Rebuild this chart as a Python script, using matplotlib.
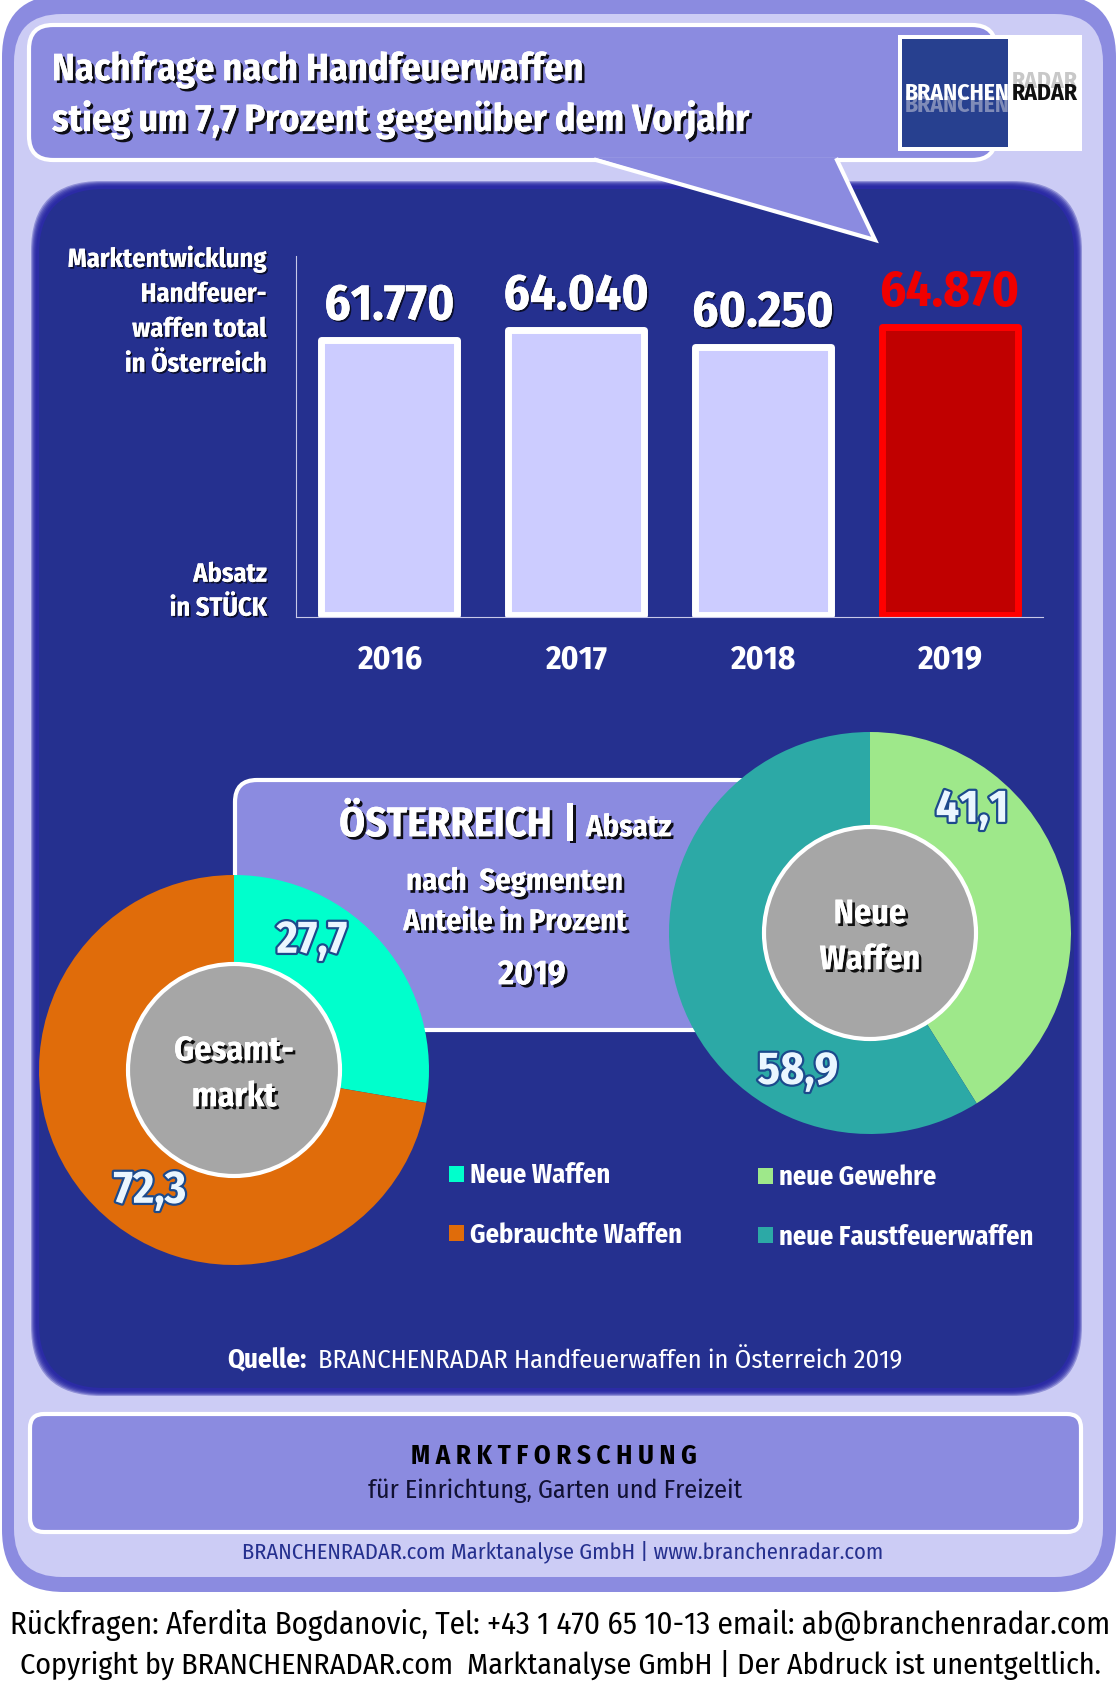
import matplotlib
matplotlib.use("Agg")
import matplotlib.pyplot as plt
import matplotlib.patheffects as pe
from matplotlib.patches import FancyBboxPatch, Polygon, Rectangle, Circle

W, H = 1117, 1687
plt.rcParams['font.family'] = ['Fira Sans Condensed', 'Carlito', 'Lato', 'DejaVu Sans']

years = ['2016', '2017', '2018', '2019']
stueck = [61770, 64040, 60250, 64870]
stueck_labels = ['61.770', '64.040', '60.250', '64.870']

gesamt_labels = ['Neue Waffen', 'Gebrauchte Waffen']
gesamt_values = [27.7, 72.3]
gesamt_colors = ['#00FFCC', '#E06C0A']

neue_labels = ['neue Gewehre', 'neue Faustfeuerwaffen']
neue_values = [41.1, 58.9]
neue_colors = ['#9EE88A', '#2CA9A6']

PANEL = '#8B8BE0'
LIGHT = '#CCCCF5'
DARK = '#25308F'


def px_axes(x0, y0, x1, y1, z):
    return fig.add_axes([x0 / W, 1 - y1 / H, (x1 - x0) / W, (y1 - y0) / H], zorder=z)


def round_box(x0, y0, x1, y1, r, **kw):
    bg.add_patch(FancyBboxPatch((x0 + r, y0 + r), x1 - x0 - 2 * r, y1 - y0 - 2 * r,
                                boxstyle=f'round,pad={r},rounding_size={r}', **kw))


shadow = [pe.withSimplePatchShadow(offset=(2, -2), shadow_rgbFace='black', alpha=0.9), pe.Normal()]
shadow_small = [pe.withSimplePatchShadow(offset=(1.2, -1.2), shadow_rgbFace='black', alpha=0.7), pe.Normal()]
outline = [pe.Stroke(linewidth=3.2, foreground='#1C4A8C'), pe.Normal()]

fig = plt.figure(figsize=(W / 100, H / 100), dpi=100, facecolor='white')

# background shapes, pixel coordinates
bg = px_axes(0, 0, W, H, 0)
bg.set_xlim(0, W)
bg.set_ylim(H, 0)
bg.axis('off')

round_box(2, -5, 1116, 1592, 62, fc=PANEL, ec='none')
round_box(14, 14, 1103, 1577, 48, fc=LIGHT, ec='none')

# dark panel with soft edge
for grow in [3, 2, 1, 0, -1, -2]:
    round_box(34 - grow, 184 - grow, 1079 + grow, 1393 + grow, 70, fc='#2020A0', ec='none', alpha=0.35)
round_box(39, 189, 1074, 1388, 65, fc=DARK, ec='none')

# speech bubble
round_box(29, 25, 996, 160, 24, fc=PANEL, ec='white', lw=3)
bg.add_patch(Polygon([(596, 158), (875, 240), (837, 158)], closed=True, fc=PANEL, ec='none'))
bg.plot([596, 875, 837], [160, 240, 160], color='white', lw=3, solid_joinstyle='miter')

bg.text(52, 70, 'Nachfrage nach Handfeuerwaffen', color='white', fontsize=27.5, weight='bold',
        va='center', path_effects=shadow)
bg.text(52, 120, 'stieg um 7,7 Prozent gegenüber dem Vorjahr', color='white', fontsize=27.5, weight='bold',
        va='center', path_effects=shadow)

# logo
bg.add_patch(Rectangle((898, 35), 184, 116, fc='white', ec='none'))
bg.add_patch(Rectangle((902, 39), 106, 108, fc='#27408F', ec='none'))
bg.text(1010, 105, 'BRANCHEN', color='#7F8BB8', fontsize=17, weight='bold', ha='right', va='center')
bg.text(1078, 81, 'RADAR', color='#C8C8C8', fontsize=17, weight='bold', ha='right', va='center')
bg.text(1010, 93, 'BRANCHEN', color='white', fontsize=17, weight='bold', ha='right', va='center')
bg.text(1012, 93, 'RADAR', color='#111111', fontsize=17, weight='bold', ha='left', va='center')

# left captions of bar chart
for y, s in [(259, 'Marktentwicklung'), (294, 'Handfeuer-'), (329, 'waffen total'), (364, 'in Österreich'),
             (574, 'Absatz'), (608, 'in STÜCK')]:
    bg.text(267, y, s, color='white', fontsize=19, weight='bold', ha='right', va='center', path_effects=shadow_small)

# middle box, right end hidden by the pie
round_box(235, 780, 760, 1030, 22, fc=PANEL, ec='white', lw=3)
bg.text(339, 825, 'ÖSTERREICH', color='white', fontsize=30, weight='bold', va='center', path_effects=shadow)
bg.text(570, 825, '|', color='white', fontsize=30, weight='bold', ha='center', va='center', path_effects=shadow)
bg.text(586, 828, 'Absatz', color='white', fontsize=22, weight='bold', va='center', path_effects=shadow)
for x, y, s, fs in [(515, 882, 'nach  Segmenten', 22), (515, 922, 'Anteile in Prozent', 21.7), (532, 975, '2019', 25)]:
    bg.text(x, y, s, color='white', fontsize=fs, weight='bold', ha='center', va='center', path_effects=shadow)

bg.text(227, 1361, 'Quelle:', color='white', fontsize=19.5, weight='bold', va='center')
bg.text(318, 1361, 'BRANCHENRADAR Handfeuerwaffen in Österreich 2019', color='white', fontsize=19.1, va='center')

# bottom box
round_box(30, 1414, 1081, 1532, 14, fc=PANEL, ec='white', lw=3)
bg.text(554, 1456, 'M A R K T F O R S C H U N G', color='black', fontsize=19.3, weight='bold', ha='center', va='center')
bg.text(555, 1491, 'für Einrichtung, Garten und Freizeit', color='#111133', fontsize=18.8, ha='center', va='center')
bg.text(563, 1552, 'BRANCHENRADAR.com Marktanalyse GmbH | www.branchenradar.com', color='#25308F', fontsize=16.2,
        ha='center', va='center')
bg.text(560, 1625, 'Rückfragen: Aferdita Bogdanovic, Tel: +43 1 470 65 10-13 email: ab@branchenradar.com',
        color='black', fontsize=22.3, ha='center', va='center')
bg.text(560, 1665, 'Copyright by BRANCHENRADAR.com  Marktanalyse GmbH | Der Abdruck ist unentgeltlich.',
        color='black', fontsize=21.6, ha='center', va='center')

# bar chart
ax = px_axes(296, 256, 1043, 617, 2)
ax.patch.set_alpha(0)
bar_fill = ['#CCCCFF', '#CCCCFF', '#CCCCFF', '#C00000']
bar_edge = ['white', 'white', 'white', '#FF0000']
ax.bar(range(4), stueck, width=0.728, color=bar_fill, edgecolor=bar_edge, linewidth=5, joinstyle='round')
ax.set_xlim(-0.5, 3.5)
ax.set_ylim(-450, 80775)
for s in ['top', 'right']:
    ax.spines[s].set_visible(False)
for s in ['left', 'bottom']:
    ax.spines[s].set_color('#C8C8E8')
    ax.spines[s].set_linewidth(0.8)
ax.set_yticks([])
ax.set_xticks(range(4))
ax.set_xticklabels(years, color='white', fontsize=24, weight='bold')
ax.tick_params(axis='x', length=0, pad=19)
for i, v in enumerate(stueck):
    red = i == 3
    ax.annotate(stueck_labels[i], (i, v), xytext=(0, 15), textcoords='offset points', ha='center', va='baseline',
                color='#F00000' if red else 'white', fontsize=36.5, weight='bold',
                path_effects=None if red else shadow_small)


def donut(cx, cy, r, inner, values, colors, center_text, label_pos, value_labels, z):
    a = px_axes(cx - r, cy - r, cx + r, cy + r, z)
    wedges, _ = a.pie(values, colors=colors, startangle=90, counterclock=False, radius=1)
    a.set_xlim(-1, 1)
    a.set_ylim(-1, 1)
    a.add_patch(Circle((0, 0), inner / r, fc='#A6A6A6', ec='white', lw=3, zorder=5))
    for k, s in enumerate(center_text):
        a.text(0, (19 - k * 46) / r, s, color='white', fontsize=24.5, weight='bold', ha='center', va='center',
               zorder=6, path_effects=shadow)
    for (x, y), s in zip(label_pos, value_labels):
        a.text(x / r, y / r, s, color='#EAF6FF', fontsize=33, weight='bold', ha='center', va='center', zorder=6,
               path_effects=outline)
    return a, wedges


_, w_left = donut(234, 1070, 195, 106, gesamt_values, gesamt_colors, ['Gesamt-', 'markt'],
                  [(78, 129), (-84, -121)], ['27,7', '72,3'], 3)
_, w_right = donut(870, 933, 201, 106, neue_values, neue_colors, ['Neue', 'Waffen'],
                   [(102, 123), (-72, -139)], ['41,1', '58,9'], 3)

fig.legend(w_left, gesamt_labels, loc='upper left', bbox_to_anchor=(428 / W, 1 - 1141 / H), frameon=False, ncol=1,
           handlelength=0.55, handleheight=0.55, handletextpad=0.25, labelspacing=1.25, borderpad=0.3,
           prop={'size': 19, 'weight': 'bold'}, labelcolor='white')
fig.legend(w_right, neue_labels, loc='upper left', bbox_to_anchor=(737 / W, 1 - 1143 / H), frameon=False, ncol=1,
           handlelength=0.55, handleheight=0.55, handletextpad=0.25, labelspacing=1.25, borderpad=0.3,
           prop={'size': 19, 'weight': 'bold'}, labelcolor='white')

fig.savefig('out.png', dpi=100)
